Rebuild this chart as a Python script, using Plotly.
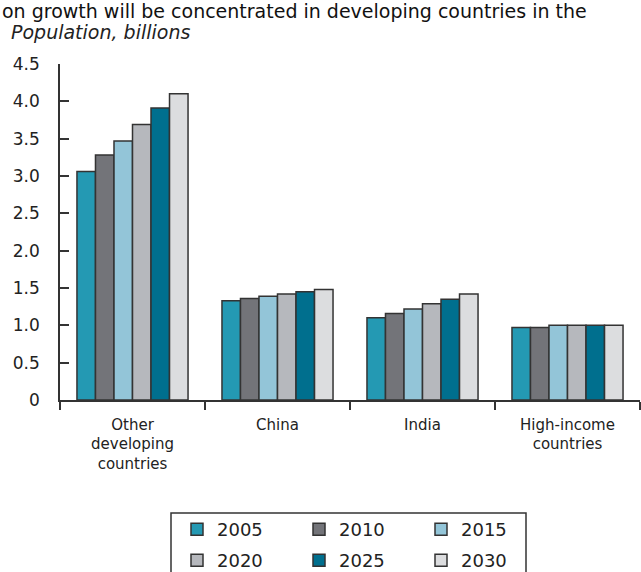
import plotly.graph_objects as go

categories = ["Other<br>developing<br>countries", "China", "India", "High-income<br>countries"]
years = ["2005", "2010", "2015", "2020", "2025", "2030"]
values = {
    "2005": [3.06, 1.33, 1.10, 0.97],
    "2010": [3.28, 1.36, 1.16, 0.97],
    "2015": [3.47, 1.39, 1.22, 1.00],
    "2020": [3.69, 1.42, 1.29, 1.00],
    "2025": [3.91, 1.45, 1.35, 1.00],
    "2030": [4.10, 1.48, 1.42, 1.00],
}
colors = {
    "2005": "#2499B3",
    "2010": "#737479",
    "2015": "#93C5D8",
    "2020": "#B6B8BD",
    "2025": "#006F8E",
    "2030": "#DCDDDF",
}
ytick_vals = [0, 0.5, 1.0, 1.5, 2.0, 2.5, 3.0, 3.5, 4.0, 4.5]
ytick_text = ["0", "0.5", "1.0", "1.5", "2.0", "2.5", "3.0", "3.5", "4.0", "4.5"]

W, H = 641, 572
ML, MR, MT, MB = 60, 1, 64, 172
PW, PH = W - ML - MR, H - MT - MB
FONT = "DejaVu Sans, Verdana, sans-serif"


def px(x):
    return (x - ML) / PW


def py(y):
    return (H - MB - y) / PH


fig = go.Figure()
for i, yr in enumerate(years):
    fig.add_trace(go.Bar(
        x=categories, y=values[yr], name=yr,
        marker=dict(color=colors[yr], line=dict(color="#333333", width=1.5)),
        legend="legend" if i < 3 else "legend2",
    ))

TXT = "#222222"
fig.update_layout(
    width=W, height=H,
    margin=dict(l=ML, r=MR, t=MT, b=MB, autoexpand=False),
    paper_bgcolor="white", plot_bgcolor="white",
    barmode="group", bargap=0.234, bargroupgap=0,
    font=dict(family=FONT, color=TXT, size=16),
    xaxis=dict(
        type="category", range=[-0.5, 3.5], tickson="boundaries",
        ticks="outside", ticklen=8, tickwidth=1.5, tickcolor="#333333",
        showline=True, linecolor="#333333", linewidth=1.5, showgrid=False,
        ticklabelstandoff=10,
        tickfont=dict(family=FONT, size=15, color=TXT),
        fixedrange=True,
    ),
    yaxis=dict(
        range=[0, 4.5], tickvals=ytick_vals, ticktext=ytick_text,
        ticks="inside", ticklen=9, tickwidth=1.5, tickcolor="#333333",
        showline=True, linecolor="#333333", linewidth=1.5,
        showgrid=False, zeroline=False, ticklabelstandoff=15,
        tickfont=dict(family=FONT, size=17, color=TXT),
        fixedrange=True,
    ),
    legend=dict(
        orientation="h", x=px(177), xanchor="left", y=py(511), yanchor="top",
        entrywidth=77, entrywidthmode="pixels", bgcolor="rgba(0,0,0,0)",
        font=dict(family=FONT, size=18, color=TXT),
    ),
    legend2=dict(
        orientation="h", x=px(177), xanchor="left", y=py(542), yanchor="top",
        entrywidth=77, entrywidthmode="pixels", bgcolor="rgba(0,0,0,0)",
        font=dict(family=FONT, size=18, color=TXT),
    ),
    shapes=[dict(
        type="rect", xref="paper", yref="paper",
        x0=px(171), x1=px(526), y0=py(513), y1=py(580),
        line=dict(color="#333333", width=1.5), fillcolor="rgba(0,0,0,0)",
    )],
    annotations=[
        dict(text="<i>Population, billions</i>", xref="paper", yref="paper",
             x=px(9), y=py(32), xanchor="left", yanchor="middle", showarrow=False,
             font=dict(family=FONT, size=19, color=TXT)),
        dict(text="on growth will be concentrated in developing countries in the",
             xref="paper", yref="paper", x=px(0), y=py(11), xanchor="left", yanchor="middle",
             showarrow=False,
             font=dict(family=FONT, size=19, color="#111111")),
    ],
)

fig.write_html("out.html", config={"displayModeBar": False},
               post_script="document.body.style.margin='0';")
